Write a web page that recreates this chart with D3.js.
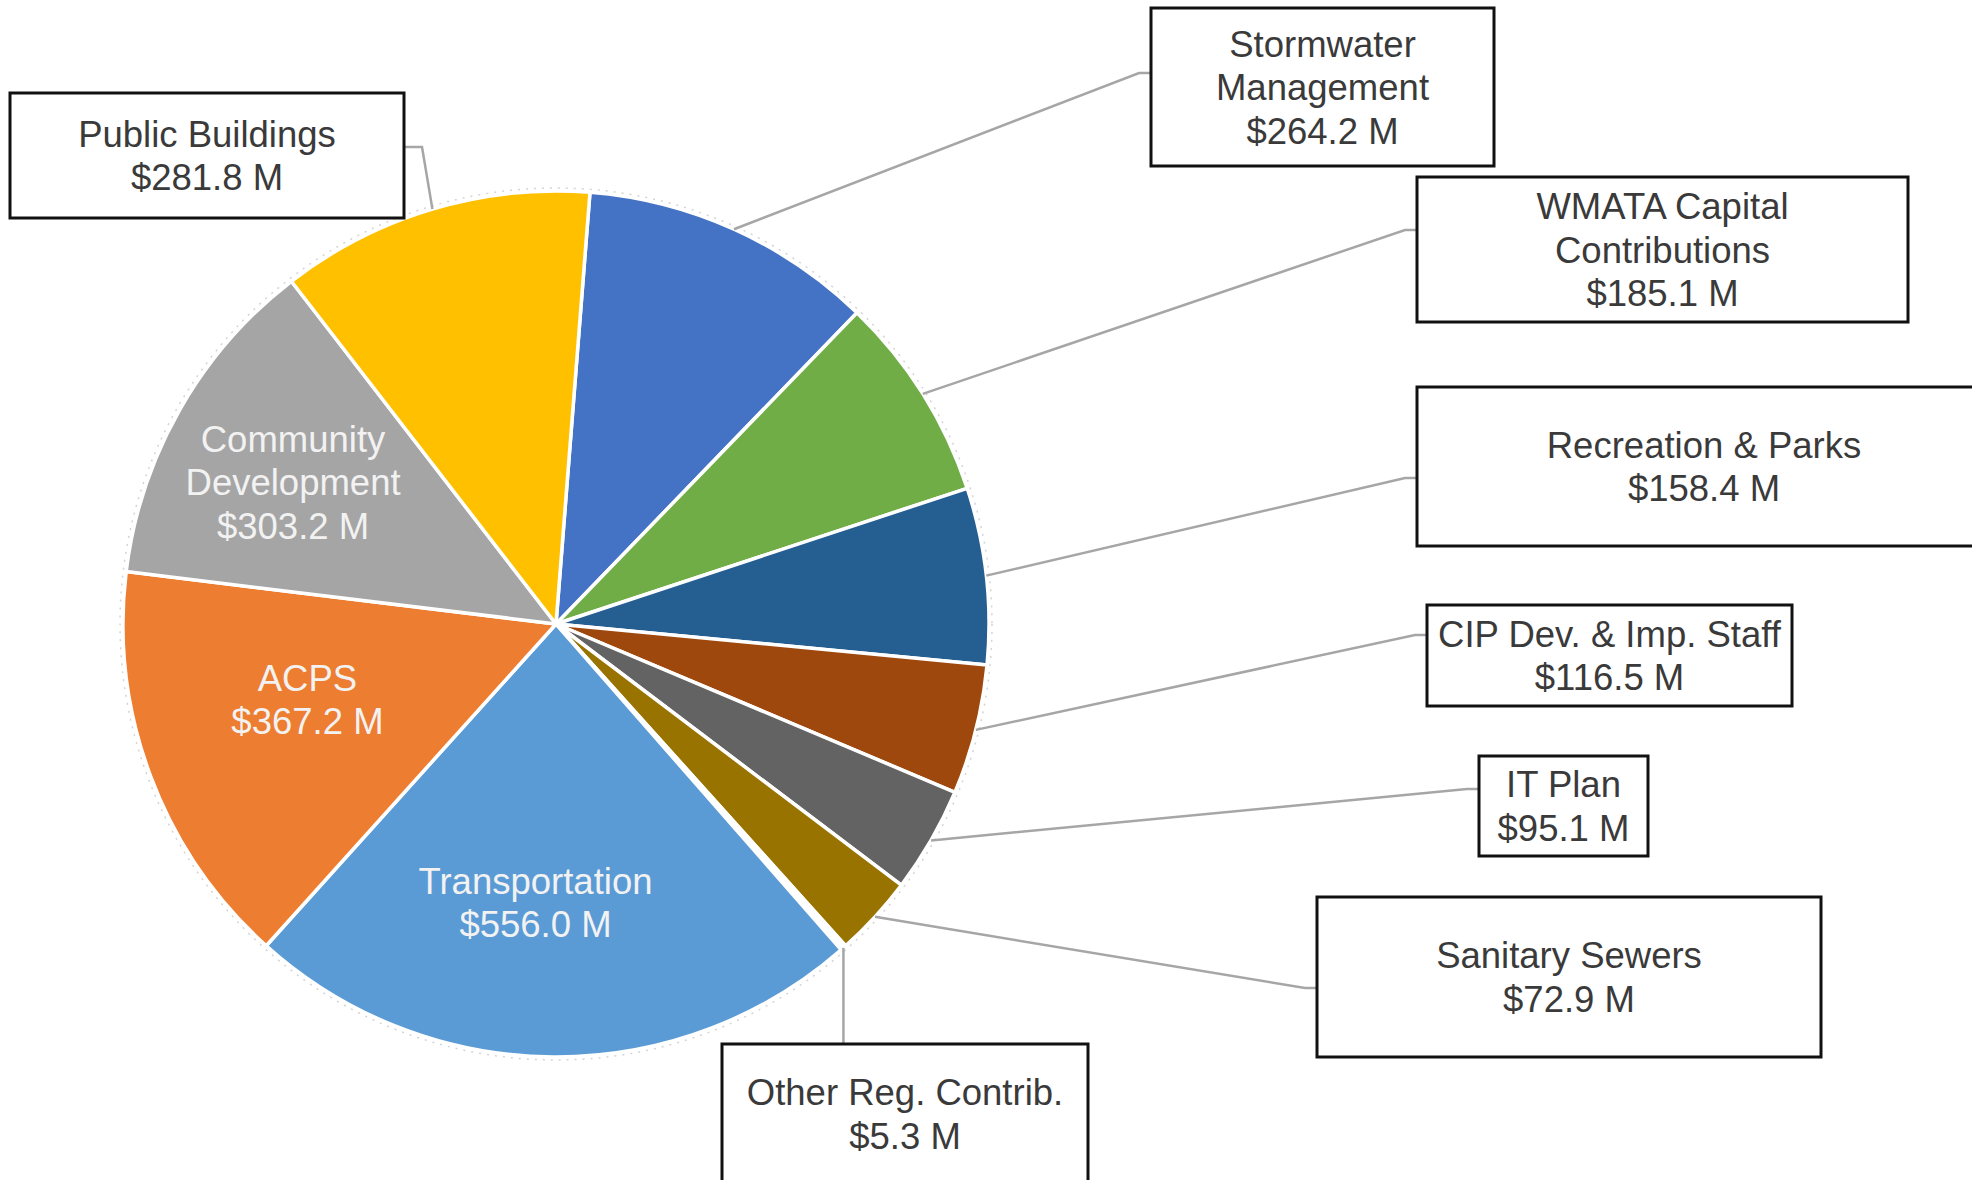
<!DOCTYPE html>
<html>
<head>
<meta charset="utf-8">
<script src="https://cdn.jsdelivr.net/npm/d3@7"></script>
<style>
  html, body { margin: 0; padding: 0; background: #fff; }
  svg { display: block; }
  text { font-family: "Liberation Sans", Arial, sans-serif; }
</style>
</head>
<body>
<div id="chart"></div>
<script>
// slices, clockwise from just right of 12 o'clock
const categories = [
  "Stormwater Management", "WMATA Capital Contributions", "Recreation & Parks",
  "CIP Dev. & Imp. Staff", "IT Plan", "Sanitary Sewers", "Other Reg. Contrib.",
  "Transportation", "ACPS", "Community Development", "Public Buildings"
];
const values = [264.2, 185.1, 158.4, 116.5, 95.1, 72.9, 5.3, 556.0, 367.2, 303.2, 281.8];
const labelLines = [
  ["Stormwater", "Management"], ["WMATA Capital", "Contributions"], ["Recreation & Parks"],
  ["CIP Dev. & Imp. Staff"], ["IT Plan"], ["Sanitary Sewers"], ["Other Reg. Contrib."],
  ["Transportation"], ["ACPS"], ["Community", "Development"], ["Public Buildings"]
];
const sliceColors = [
  "#4472c4", "#70ad47", "#255e91", "#9e480e", "#636363", "#997300", "#ffffff",
  "#5b9bd5", "#ed7d31", "#a5a5a5", "#ffc000"
];

const width = 1972, height = 1180;
const cx = 556, cy = 624, radius = 433;
const startAngle = 4.5 * Math.PI / 180;
const lineHeight = 43.5;
const fontSize = 36.5;

// callout boxes: position/size of the framed label, and where the leader meets it
const callouts = {
  "Public Buildings":            { x: 10,   y: 93,   w: 394, h: 125, side: "right", attach: 54 },
  "Stormwater Management":       { x: 1151, y: 8,    w: 343, h: 158, side: "left",  attach: 65 },
  "WMATA Capital Contributions": { x: 1417, y: 177,  w: 491, h: 145, side: "left",  attach: 53 },
  "Recreation & Parks":          { x: 1417, y: 387,  w: 574, h: 159, side: "left",  attach: 91 },
  "CIP Dev. & Imp. Staff":       { x: 1427, y: 605,  w: 365, h: 101, side: "left",  attach: 30 },
  "IT Plan":                     { x: 1479, y: 756,  w: 169, h: 100, side: "left",  attach: 33 },
  "Sanitary Sewers":             { x: 1317, y: 897,  w: 504, h: 160, side: "left",  attach: 91 },
  "Other Reg. Contrib.":         { x: 722,  y: 1044, w: 366, h: 140, side: "top" }
};
// labels drawn inside their slice: radius factor and angle nudge (deg)
const insideLabels = {
  "Community Development": { k: 0.69, nudge: -1.3 },
  "ACPS":                  { k: 0.60, nudge: 3.6 },
  "Transportation":        { k: 0.645, nudge: 3.8 }
};

const rows = categories.map((c, i) => ({ name: c, value: values[i], lines: labelLines[i], color: sliceColors[i] }));

const svg = d3.select("#chart").append("svg")
  .attr("width", width)
  .attr("height", height);

svg.append("rect").attr("width", width).attr("height", height).attr("fill", "#fff");

const g = svg.append("g").attr("transform", `translate(${cx}, ${cy})`);

const pie = d3.pie().sort(null).value(d => d.value)
  .startAngle(startAngle).endAngle(startAngle + 2 * Math.PI);
const arc = d3.arc().innerRadius(0).outerRadius(radius);
const rimArc = d3.arc().innerRadius(radius).outerRadius(radius);
const color = d3.scaleOrdinal().domain(categories).range(sliceColors);

const arcs = pie(rows);

// faint dotted ring round the pie
g.append("circle")
  .attr("r", radius + 3)
  .attr("fill", "none")
  .attr("stroke", "#d4d4d4")
  .attr("stroke-width", 1.5)
  .attr("stroke-dasharray", "2 6");

g.selectAll("path.slice")
  .data(arcs)
  .enter()
  .append("path")
  .attr("class", "slice")
  .attr("d", arc)
  .attr("fill", d => color(d.data.name))
  .attr("stroke", "#fff")
  .attr("stroke-width", 3.5)
  .attr("stroke-linejoin", "round");

// leader lines
const leaders = arcs.filter(d => callouts[d.data.name]);

g.selectAll("path.leader")
  .data(leaders)
  .enter()
  .append("path")
  .attr("class", "leader")
  .attr("fill", "none")
  .attr("stroke", "#a6a6a6")
  .attr("stroke-width", 2.5)
  .attr("d", d => {
    const box = callouts[d.data.name];
    const [px, py] = rimArc.centroid(d);
    const bx = box.x - cx, by = box.y - cy;
    if (box.side === "top") {
      return `M${px},${py}L${px},${by}`;
    }
    const ay = by + box.attach;
    if (box.side === "right") {
      const ex = bx + box.w;
      return `M${px},${py}L${ex + 18},${ay}L${ex},${ay}`;
    }
    return `M${px},${py}L${bx - 12},${ay}L${bx},${ay}`;
  });

const money = v => `$${v.toFixed(1)} M`;

// framed callout labels
const boxes = svg.selectAll("g.callout")
  .data(leaders)
  .enter()
  .append("g")
  .attr("class", "callout");

boxes.append("rect")
  .attr("x", d => callouts[d.data.name].x)
  .attr("y", d => callouts[d.data.name].y)
  .attr("width", d => callouts[d.data.name].w)
  .attr("height", d => callouts[d.data.name].h)
  .attr("fill", "#fff")
  .attr("stroke", "#111")
  .attr("stroke-width", 3);

boxes.each(function (d) {
  const box = callouts[d.data.name];
  const lines = d.data.lines.concat([money(d.data.value)]);
  const midY = box.y + box.h / 2;
  const top = midY - (lines.length - 1) * lineHeight / 2;
  d3.select(this).selectAll("text")
    .data(lines)
    .enter()
    .append("text")
    .attr("x", box.x + box.w / 2)
    .attr("y", (t, i) => top + i * lineHeight)
    .attr("dy", "0.36em")
    .attr("text-anchor", "middle")
    .attr("font-size", fontSize)
    .attr("fill", "#3a3a3a")
    .text(t => t);
});

// labels inside the big slices
arcs.filter(d => insideLabels[d.data.name]).forEach(d => {
  const opt = insideLabels[d.data.name];
  const a = (d.startAngle + d.endAngle) / 2 + opt.nudge * Math.PI / 180;
  const r = radius * opt.k;
  const x = Math.sin(a) * r, y = -Math.cos(a) * r;
  const lines = d.data.lines.concat([money(d.data.value)]);
  const top = y - (lines.length - 1) * lineHeight / 2;
  g.append("g").selectAll("text")
    .data(lines)
    .enter()
    .append("text")
    .attr("x", x)
    .attr("y", (t, i) => top + i * lineHeight)
    .attr("dy", "0.36em")
    .attr("text-anchor", "middle")
    .attr("font-size", fontSize)
    .attr("fill", "#f2f2f2")
    .text(t => t);
});
</script>
</body>
</html>
